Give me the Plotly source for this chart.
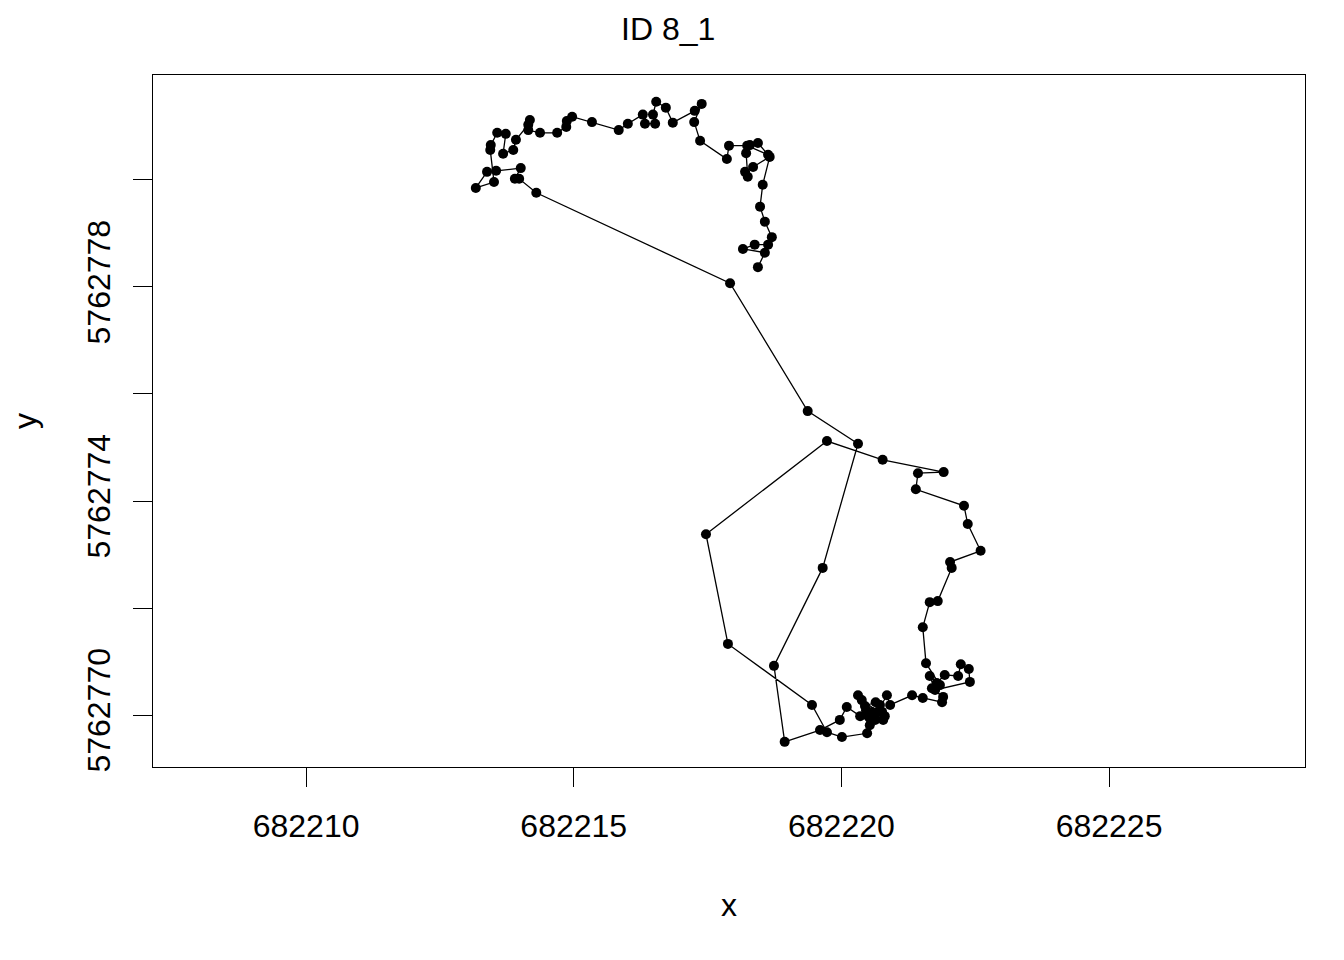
"""Track plot for ID 8_1 (x/y coordinates joined in time order)."""

import plotly.graph_objects as go

TITLE = "ID 8_1"
FONT = "Liberation Sans, Arial, sans-serif"

# easting values, in the order the points were recorded
x_vals = [
    682218.44, 682218.57, 682218.16, 682218.38, 682218.63, 682218.70, 682218.57, 682218.48,
    682218.53, 682218.66, 682218.35, 682218.20, 682218.25, 682218.22, 682218.29, 682218.44,
    682218.63, 682218.24, 682217.90, 682217.86, 682217.36, 682217.25, 682217.39, 682217.26,
    682216.85, 682216.72, 682216.54, 682216.48, 682216.52, 682216.33, 682216.29, 682216.01,
    682215.84, 682215.34, 682214.97, 682214.87, 682214.86, 682214.69, 682214.37, 682214.15,
    682214.18, 682214.15, 682213.92, 682213.87, 682213.68, 682213.73, 682213.57, 682213.45,
    682213.44, 682213.51, 682213.17, 682213.38, 682213.55, 682214.01, 682213.90, 682213.98,
    682214.30, 682217.92, 682219.37, 682220.31, 682219.65, 682218.74, 682218.94, 682219.60,
    682219.97, 682220.10, 682220.35, 682220.46, 682220.63, 682220.72, 682220.57, 682220.81,
    682220.38, 682220.31, 682220.53, 682220.68, 682220.85, 682220.91, 682221.32, 682221.52,
    682221.88, 682221.90, 682221.69, 682221.78, 682221.93, 682222.18, 682222.23, 682222.38,
    682222.40, 682221.75, 682221.65, 682221.84, 682221.58, 682221.52, 682221.65, 682221.80,
    682222.06, 682222.03, 682222.60, 682222.36, 682222.29, 682221.39, 682221.43, 682221.91,
    682220.77, 682219.73, 682217.47, 682217.88, 682219.45, 682219.73, 682220.01, 682220.48,
    682220.53, 682220.76, 682220.64, 682220.44, 682220.78, 682220.50,
]

# northing values, same order as x_vals
y_vals = [
    5762778.37, 5762778.64, 5762778.71, 5762778.79, 5762778.79, 5762778.93, 5762779.22, 5762779.50,
    5762779.91, 5762780.43, 5762780.24, 5762780.15, 5762780.06, 5762780.50, 5762780.65, 5762780.69,
    5762780.47, 5762780.64, 5762780.64, 5762780.39, 5762780.73, 5762781.08, 5762781.42, 5762781.29,
    5762781.07, 5762781.35, 5762781.46, 5762781.22, 5762781.05, 5762781.05, 5762781.22, 5762781.05,
    5762780.93, 5762781.08, 5762781.18, 5762781.10, 5762780.99, 5762780.88, 5762780.88, 5762780.93,
    5762781.12, 5762781.03, 5762780.75, 5762780.56, 5762780.49, 5762780.86, 5762780.88, 5762780.65,
    5762780.56, 5762779.96, 5762779.85, 5762780.15, 5762780.17, 5762780.22, 5762780.02, 5762780.02,
    5762779.76, 5762778.07, 5762775.68, 5762775.07, 5762772.75, 5762770.92, 5762769.50, 5762769.72,
    5762769.91, 5762770.15, 5762769.98, 5762770.09, 5762769.91, 5762770.19, 5762770.06, 5762769.98,
    5762770.28, 5762770.37, 5762769.81, 5762770.06, 5762770.37, 5762770.19, 5762770.37, 5762770.32,
    5762770.24, 5762770.34, 5762770.50, 5762770.60, 5762770.75, 5762770.73, 5762770.95, 5762770.86,
    5762770.62, 5762770.47, 5762770.73, 5762770.56, 5762770.97, 5762771.64, 5762772.11, 5762772.13,
    5762772.75, 5762772.86, 5762773.07, 5762773.57, 5762773.91, 5762774.22, 5762774.52, 5762774.54,
    5762774.77, 5762775.12, 5762773.38, 5762771.33, 5762770.19, 5762769.68, 5762769.59, 5762769.66,
    5762769.94, 5762770.06, 5762770.24, 5762770.17, 5762769.91, 5762769.98,
]

x_ticks = [682210, 682215, 682220, 682225]
y_ticks = [5762770, 5762772, 5762774, 5762776, 5762778, 5762780]
y_tick_text = ["5762770", "", "5762774", "", "5762778", ""]

# plot box in page pixels (the html body adds an 8px offset)
PLOT_W = 1152
PLOT_H = 692


fig = go.Figure()
fig.add_trace(
    go.Scatter(
        x=x_vals,
        y=y_vals,
        mode="lines+markers",
        line=dict(color="black", width=1.3),
        marker=dict(color="black", size=10),
        showlegend=False,
    )
)

axis_style = dict(
    showline=True,
    mirror=True,
    linecolor="black",
    linewidth=1.3,
    ticks="outside",
    ticklen=19,
    tickwidth=1.3,
    tickcolor="black",
    showgrid=False,
    zeroline=False,
    tickfont=dict(family=FONT, size=32, color="black"),
)

fig.update_xaxes(
    range=[682207.14, 682228.66],
    tickmode="array",
    tickvals=x_ticks,
    ticktext=[str(v) for v in x_ticks],
    ticklabelstandoff=11,
    **axis_style,
)
fig.update_yaxes(
    range=[5762769.03, 5762781.96],
    tickmode="array",
    tickvals=y_ticks,
    ticktext=y_tick_text,
    tickangle=-90,
    ticklabelstandoff=10,
    **axis_style,
)

label_font = dict(family=FONT, size=32, color="black")
fig.update_layout(
    width=1344,
    height=960,
    margin=dict(l=145, r=47, t=67, b=201),
    paper_bgcolor="white",
    plot_bgcolor="white",
    font=dict(family=FONT, color="black"),
    annotations=[
        dict(text=TITLE, x=(668 - 153) / PLOT_W, y=1 + (75 - 29) / PLOT_H,
             xref="paper", yref="paper", xanchor="center", yanchor="middle",
             showarrow=False, font=label_font),
        dict(text="x", x=0.5, y=-(905 - 767) / PLOT_H,
             xref="paper", yref="paper", xanchor="center", yanchor="middle",
             showarrow=False, font=label_font),
        dict(text="y", x=-(153 - 25) / PLOT_W, y=0.5,
             xref="paper", yref="paper", xanchor="center", yanchor="middle",
             showarrow=False, textangle=-90, font=label_font),
    ],
)

fig.write_html("out.html")
